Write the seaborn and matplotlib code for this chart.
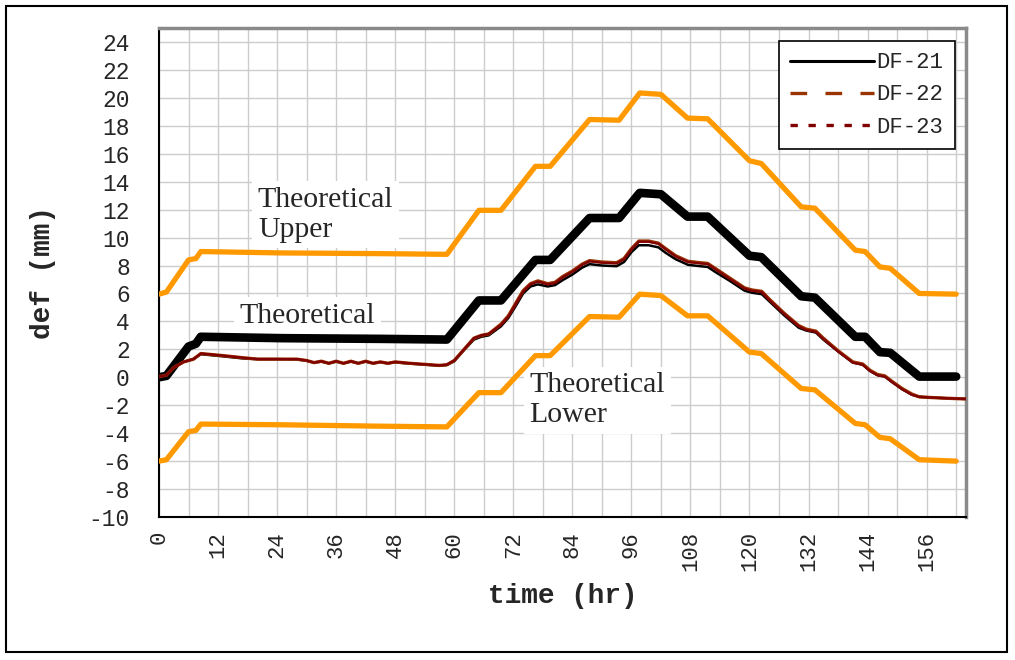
import matplotlib
matplotlib.use("Agg")
import matplotlib.pyplot as plt
import seaborn as sns
import pandas as pd
from matplotlib.lines import Line2D
from matplotlib.patches import Rectangle
from matplotlib.ticker import MultipleLocator

# ---------------- data ----------------
t_theory = [0, 1.5, 6, 7.5, 8.5, 25, 45, 58.5, 65, 69.5, 76.5, 79.5, 87.5, 93.5,
            97.7, 102, 107.4, 111.5, 120, 122.4, 130.5, 133.3, 141.5, 143.5,
            146.5, 148.6, 154.5, 162]
theoretical = [0.0, 0.1, 2.2, 2.4, 2.9, 2.8, 2.75, 2.7, 5.5, 5.5, 8.4, 8.4, 11.4,
               11.4, 13.2, 13.1, 11.5, 11.5, 8.7, 8.6, 5.8, 5.7, 2.9, 2.9, 1.8,
               1.75, 0.05, 0.05]
theo_upper = [5.95, 6.1, 8.4, 8.5, 9.0, 8.9, 8.85, 8.8, 11.95, 11.95, 15.1, 15.1,
              18.45, 18.4, 20.35, 20.25, 18.55, 18.5, 15.5, 15.3, 12.2, 12.1, 9.1,
              9.0, 7.9, 7.8, 6.0, 5.95]
theo_lower = [-6.0, -5.9, -3.9, -3.8, -3.35, -3.4, -3.5, -3.55, -1.1, -1.1, 1.55,
              1.55, 4.35, 4.3, 5.95, 5.85, 4.4, 4.4, 1.8, 1.7, -0.8, -0.9, -3.3,
              -3.4, -4.3, -4.4, -5.9, -6.0]

t_meas = [0, 1.5, 3, 5, 7, 8.5, 10, 13, 17, 20, 24, 28, 30, 31.5, 33, 34.5, 36,
          37.5, 39, 40.5, 42, 43.5, 45, 46.5, 48, 49.5, 51, 53, 55, 57, 58.5, 60,
          62, 64, 65.5, 67, 69.5, 71, 72.5, 74, 75.5, 77, 79, 80.5, 82, 84, 86,
          87.5, 90, 93, 94.5, 96, 97.5, 99.5, 101.5, 103, 105, 107.5, 110, 111.5,
          113, 116, 119, 120.5, 122.5, 124, 127, 130, 131.5, 133.5, 135, 138, 141,
          143, 144.5, 146, 147.5, 149, 151, 153, 154.5, 157, 160, 164]
df21 = [0.0, 0.15, 0.7, 1.1, 1.3, 1.65, 1.6, 1.5, 1.35, 1.3, 1.3, 1.28, 1.18, 1.05,
        1.12, 1.0, 1.12, 1.0, 1.12, 1.0, 1.12, 1.0, 1.08, 1.0, 1.08, 1.02, 0.98,
        0.93, 0.88, 0.83, 0.88, 1.15, 1.95, 2.7, 2.9, 3.0, 3.65, 4.25, 5.1, 6.0,
        6.5, 6.65, 6.5, 6.6, 6.95, 7.35, 7.85, 8.1, 8.0, 7.95, 8.25, 8.95, 9.45,
        9.45, 9.3, 8.9, 8.45, 8.05, 7.95, 7.9, 7.55, 6.9, 6.2, 6.05, 5.95, 5.45,
        4.45, 3.55, 3.35, 3.2, 2.7, 1.85, 1.05, 0.9, 0.45, 0.15, 0.05, -0.35,
        -0.85, -1.25, -1.4, -1.45, -1.5, -1.55]
df22 = [0.05, 0.15, 0.7, 1.1, 1.3, 1.7, 1.65, 1.55, 1.4, 1.3, 1.3, 1.3, 1.2, 1.05,
        1.15, 1.0, 1.15, 1.0, 1.15, 1.0, 1.15, 1.0, 1.1, 1.0, 1.1, 1.05, 1.0,
        0.95, 0.9, 0.85, 0.9, 1.2, 2.0, 2.8, 3.0, 3.1, 3.8, 4.4, 5.3, 6.2, 6.7,
        6.9, 6.7, 6.8, 7.2, 7.6, 8.1, 8.35, 8.25, 8.2, 8.5, 9.2, 9.75, 9.75, 9.6,
        9.2, 8.7, 8.3, 8.2, 8.15, 7.8, 7.1, 6.4, 6.25, 6.15, 5.6, 4.6, 3.7, 3.45,
        3.3, 2.8, 1.9, 1.1, 0.95, 0.5, 0.2, 0.1, -0.3, -0.8, -1.2, -1.4, -1.45,
        -1.5, -1.55]
df23 = [0.05, 0.15, 0.7, 1.1, 1.3, 1.7, 1.65, 1.55, 1.4, 1.3, 1.3, 1.3, 1.2, 1.05,
        1.15, 1.0, 1.15, 1.0, 1.15, 1.0, 1.15, 1.0, 1.1, 1.0, 1.1, 1.05, 1.0,
        0.95, 0.9, 0.85, 0.9, 1.2, 2.0, 2.8, 3.0, 3.1, 3.75, 4.35, 5.25, 6.15,
        6.65, 6.85, 6.65, 6.75, 7.15, 7.55, 8.05, 8.3, 8.2, 8.15, 8.45, 9.15,
        9.7, 9.7, 9.55, 9.15, 8.65, 8.25, 8.15, 8.1, 7.75, 7.05, 6.35, 6.2, 6.1,
        5.55, 4.55, 3.65, 3.4, 3.25, 2.75, 1.85, 1.05, 0.9, 0.45, 0.15, 0.05,
        -0.35, -0.85, -1.25, -1.4, -1.45, -1.5, -1.55]

series_labels = ["DF-21", "DF-22", "DF-23"]
x_tick_labels = [str(v) for v in range(0, 157, 12)]

# ---------------- style ----------------
sns.set_theme(style="white")
plt.rcParams["font.family"] = ["Liberation Mono", "DejaVu Sans"]
plt.rcParams["axes.unicode_minus"] = False

fig = plt.figure(figsize=(10.15, 6.6), dpi=100)
ax = fig.add_axes([159 / 1015, 1 - 517 / 660, (966 - 159) / 1015, (517 - 28) / 660])
ax.set_facecolor("white")

orange = "#FF9900"
sns.lineplot(x=t_theory, y=theo_upper, ax=ax, color=orange, linewidth=3.8, zorder=3)
sns.lineplot(x=t_theory, y=theo_lower, ax=ax, color=orange, linewidth=3.8, zorder=3)
sns.lineplot(x=t_theory, y=theoretical, ax=ax, color="black", linewidth=6.2, zorder=3)
sns.lineplot(x=t_meas, y=df21, ax=ax, color="black", linewidth=1.8, zorder=4)
sns.lineplot(x=t_meas, y=df22, ax=ax, color="#993300", linewidth=2.4, zorder=4)
sns.lineplot(x=t_meas, y=df23, ax=ax, color="#800000", linewidth=1.6, zorder=5)

ax.set_xlim(0, 164)
ax.set_ylim(-10, 25)
ax.xaxis.set_minor_locator(MultipleLocator(6))
ax.yaxis.set_minor_locator(MultipleLocator(1))
ax.set_xticks(list(range(0, 157, 12)))
ax.set_xticklabels(x_tick_labels, rotation=90, fontsize=16)
ax.set_yticks(list(range(-10, 25, 2)))
ax.set_yticklabels([str(v) for v in range(-10, 25, 2)], fontsize=16.5)
ax.tick_params(axis="both", which="both", direction="in", color="black")
ax.tick_params(axis="x", which="major", length=5, width=1, pad=10)
ax.tick_params(axis="x", which="minor", length=5, width=1)
ax.tick_params(axis="y", which="major", length=5, width=1, pad=21)
ax.tick_params(axis="y", which="minor", length=4, width=1)

ax.grid(True, which="major", axis="y", color="#cccccc", linewidth=1)
ax.grid(True, which="both", axis="x", color="#cccccc", linewidth=1)
ax.set_axisbelow(True)

for s in ["left", "bottom"]:
    ax.spines[s].set_color("black")
    ax.spines[s].set_linewidth(1.5)
for s in ["top", "right"]:
    ax.spines[s].set_color("#8a8a8a")
    ax.spines[s].set_linewidth(2.5)

ax.set_xlabel("time (hr)", fontsize=20, fontweight="bold")
ax.set_ylabel("def (mm)", fontsize=20, fontweight="bold")
ax.xaxis.set_label_coords(0.5, -0.135)
ax.yaxis.set_label_coords(-0.128, 0.5)

serif = ["Liberation Serif", "DejaVu Serif"]
box = dict(facecolor="white", edgecolor="none", pad=4)
ax.text(20.1, 11.65, "Theoretical\nUpper", family=serif, fontsize=21.5, ha="left",
        va="center", bbox=box, zorder=2.5, linespacing=1.2)
ax.text(16.4, 4.4, "Theoretical", family=serif, fontsize=21.5, ha="left",
        va="center", bbox=box, zorder=2.5)
ax.text(75.3, -1.65, "Theoretical\nLower", family=serif, fontsize=21.5, ha="left",
        va="center", bbox=box, zorder=2.5, linespacing=1.2)

handles = [
    Line2D([0], [0], color="black", lw=2.2),
    Line2D([0], [0], color="#993300", lw=2.4, ls=(0, (5, 5.5))),
    Line2D([0], [0], color="#800000", lw=2.4, ls=(0, (2.2, 3.2))),
]
leg = ax.legend(handles, series_labels, loc="upper right",
                bbox_to_anchor=(0.986, 0.973), borderaxespad=0,
                fontsize=16, frameon=True, fancybox=False, shadow=False,
                framealpha=1, edgecolor="black", handlelength=3.8,
                handletextpad=0.1, labelspacing=0.5, borderpad=0.5)
leg.get_frame().set_linewidth(1.2)
leg.set_zorder(10)

fig.add_artist(Rectangle((6 / 1015, 8 / 660), 1001 / 1015, 646 / 660,
                         transform=fig.transFigure, fill=False,
                         edgecolor="black", linewidth=1.5))

fig.savefig("out.png", dpi=100, facecolor="white")
